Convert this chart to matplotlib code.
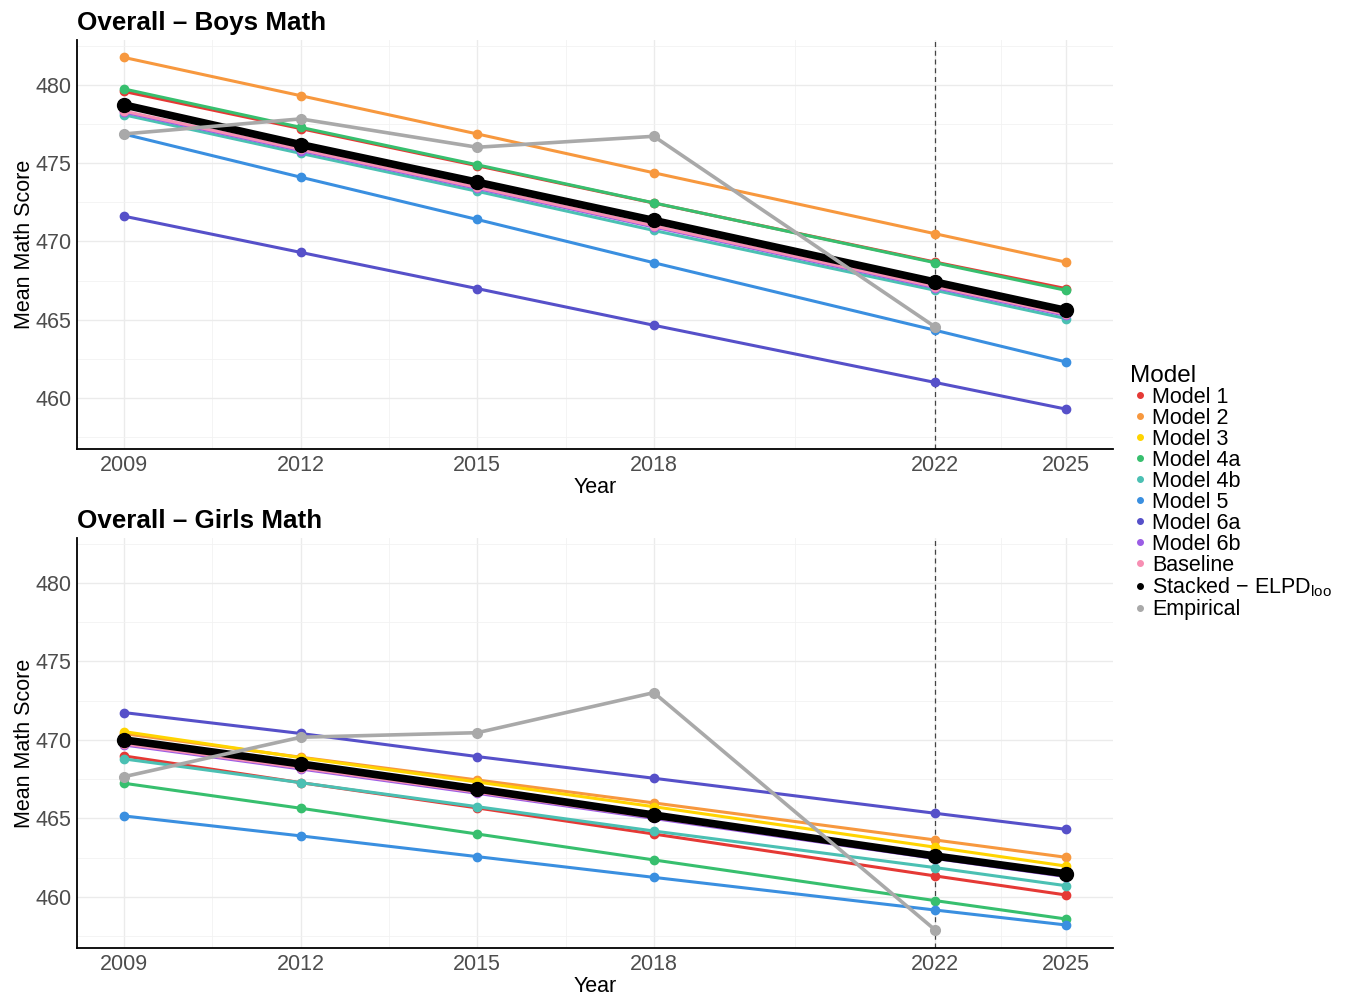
import matplotlib
matplotlib.use("Agg")
import matplotlib.pyplot as plt
from matplotlib.lines import Line2D

plt.rcParams["font.family"] = ["Liberation Sans", "DejaVu Sans"]
plt.rcParams["mathtext.fontset"] = "custom"
plt.rcParams["mathtext.rm"] = "Liberation Sans"

# x positions of the survey waves (2022 wave sits slightly later on the axis)
YEAR_POS = [2009, 2012, 2015, 2018, 2022.78, 2025]
YEAR_LABELS = ["2009", "2012", "2015", "2018", "2022", "2025"]

MODELS = ["Model 1", "Model 2", "Model 3", "Model 4a", "Model 4b", "Model 5",
          "Model 6a", "Model 6b", "Baseline", "Stacked", "Empirical"]
COLORS = ["#E53935", "#F7983E", "#FFD400", "#37BF6E", "#4BC0B3", "#3A8FE0",
          "#5650C9", "#9B5DE5", "#F78FB3", "#000000", "#A9A9A9"]

# Boys
boys_m1 = [479.57, 477.20, 474.83, 472.45, 468.68, 466.99]
boys_m2 = [481.74, 479.30, 476.86, 474.38, 470.49, 468.68]
boys_m3 = [478.66, 476.17, 473.75, 471.33, 467.35, 465.55]
boys_m4a = [479.73, 477.28, 474.89, 472.46, 468.64, 466.88]
boys_m4b = [478.08, 475.62, 473.20, 470.70, 466.88, 465.08]
boys_m5 = [476.85, 474.10, 471.40, 468.64, 464.33, 462.31]
boys_m6a = [471.61, 469.30, 466.99, 464.65, 461.00, 459.30]
boys_m6b = [478.25, 475.80, 473.38, 470.92, 467.05, 465.28]
boys_base = [478.32, 475.87, 473.45, 470.99, 467.12, 465.35]
boys_stack = [478.71, 476.18, 473.78, 471.34, 467.41, 465.60]
boys_emp = [476.86, 477.82, 476.01, 476.71, 464.54]

# Girls
girls_m1 = [468.98, 467.28, 465.67, 464.01, 461.34, 460.13]
girls_m2 = [470.40, 468.90, 467.45, 465.99, 463.63, 462.53]
girls_m3 = [470.53, 468.87, 467.32, 465.75, 463.17, 461.97]
girls_m4a = [467.24, 465.65, 464.01, 462.36, 459.77, 458.60]
girls_m4b = [468.79, 467.28, 465.75, 464.20, 461.87, 460.72]
girls_m5 = [465.16, 463.89, 462.57, 461.25, 459.17, 458.22]
girls_m6a = [471.74, 470.41, 468.94, 467.56, 465.33, 464.31]
girls_m6b = [469.68, 468.15, 466.60, 465.00, 462.45, 461.30]
girls_base = [469.75, 468.22, 466.67, 465.07, 462.52, 461.37]
girls_stack = [470.00, 468.47, 466.88, 465.22, 462.61, 461.48]
girls_emp = [467.66, 470.17, 470.46, 473.01, 457.90]

BOYS = [boys_m1, boys_m2, boys_m3, boys_m4a, boys_m4b, boys_m5, boys_m6a,
        boys_m6b, boys_base, boys_stack, boys_emp]
GIRLS = [girls_m1, girls_m2, girls_m3, girls_m4a, girls_m4b, girls_m5, girls_m6a,
         girls_m6b, girls_base, girls_stack, girls_emp]

Y_TICKS = [460, 465, 470, 475, 480]


def draw_panel(ax, series, title):
    for name, color, vals in zip(MODELS, COLORS, series):
        xs = YEAR_POS[:len(vals)]
        if name == "Stacked":
            ax.plot(xs, vals, color=color, lw=5.5, marker="o", ms=10, zorder=3,
                    solid_capstyle="round")
        elif name == "Empirical":
            ax.plot(xs, vals, color=color, lw=2.6, marker="o", ms=7, zorder=4)
        else:
            ax.plot(xs, vals, color=color, lw=2.2, marker="o", ms=6, zorder=2)
    ax.axvline(YEAR_POS[4], color="#444444", lw=0.9, ls=(0, (4, 3)), zorder=1)

    ax.set_xlim(2008.2, 2025.8)
    ax.set_ylim(456.75, 482.85)
    ax.set_xticks(YEAR_POS)
    ax.set_xticklabels(YEAR_LABELS)
    minor_x = [(a + b) / 2 for a, b in zip(YEAR_POS[:-1], YEAR_POS[1:])]
    ax.set_xticks(minor_x, minor=True)
    ax.set_yticks(Y_TICKS)
    ax.set_yticks([457.5, 462.5, 467.5, 472.5, 477.5, 482.5], minor=True)
    ax.grid(which="major", color="#EBEBEB", lw=1.0, zorder=0)
    ax.grid(which="minor", color="#F2F2F2", lw=0.6, zorder=0)
    ax.set_axisbelow(True)

    for side in ["top", "right"]:
        ax.spines[side].set_visible(False)
    for side in ["left", "bottom"]:
        ax.spines[side].set_color("black")
        ax.spines[side].set_linewidth(1.3)
    ax.tick_params(which="both", length=0, pad=4, labelsize=15.5, labelcolor="#4D4D4D")

    ax.set_xlabel("Year", fontsize=15.5, labelpad=1)
    ax.set_ylabel("Mean Math Score", fontsize=15.5, labelpad=0)
    ax.set_title(title, loc="left", fontsize=18.7, fontweight="bold", pad=7)


fig = plt.figure(figsize=(13.51, 9.97), dpi=100)
ax_top = fig.add_axes([0.057, 0.5496, 0.7668, 0.4102])
ax_bot = fig.add_axes([0.057, 0.0491, 0.7668, 0.4112])

draw_panel(ax_top, BOYS, "Overall \u2013 Boys Math")
draw_panel(ax_bot, GIRLS, "Overall \u2013 Girls Math")

labels = MODELS[:]
labels[MODELS.index("Stacked")] = "Stacked \u2212 ELPD$_{\\mathregular{loo}}$"
handles = [Line2D([], [], ls="none", marker="o", ms=4, color=c) for c in COLORS]
leg = fig.legend(handles, labels, title="Model", loc="upper left",
                 bbox_to_anchor=(0.8303, 0.643), frameon=False, fontsize=15.5,
                 title_fontsize=17.5, labelspacing=0.0, handletextpad=0.1,
                 handlelength=0.9, borderaxespad=0)
leg._legend_box.align = "left"

fig.savefig("out.png", dpi=100)
